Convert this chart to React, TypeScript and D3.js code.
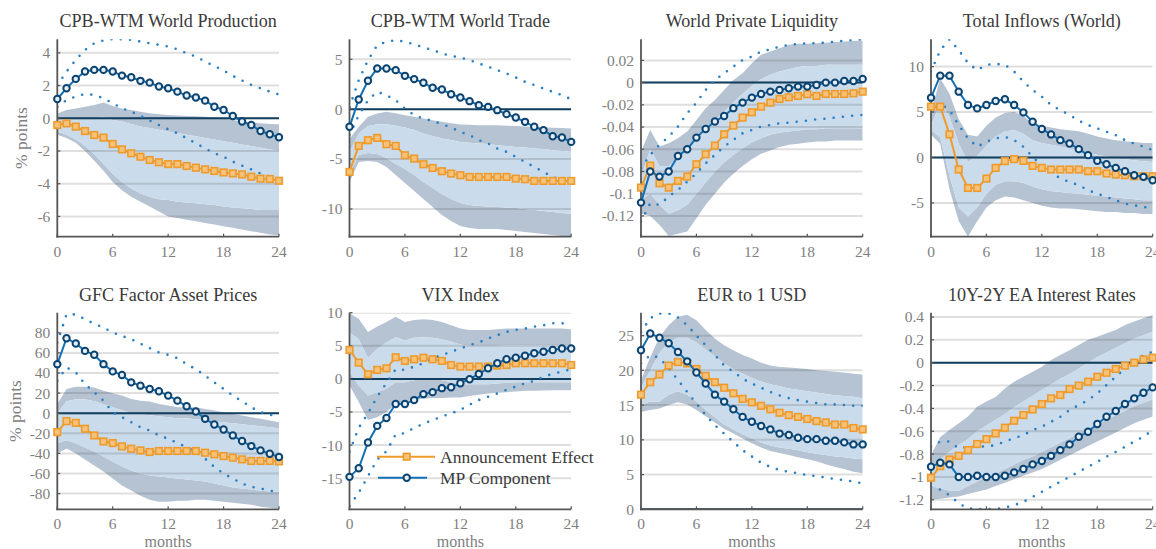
import React from "react";
import * as d3 from "d3";

// ---------- shared axis data ----------
const months = [0, 1, 2, 3, 4, 5, 6, 7, 8, 9, 10, 11, 12, 13, 14, 15, 16, 17, 18, 19, 20, 21, 22, 23, 24];
const xTicks = [0, 6, 12, 18, 24];

// ---------- Panel 1: CPB-WTM World Production ----------
const prodAE = [-0.41, -0.31, -0.51, -0.78, -1.02, -1.18, -1.57, -1.9, -2.14, -2.35, -2.55, -2.69, -2.8, -2.8, -2.92, -3.02, -3.12, -3.22, -3.31, -3.37, -3.43, -3.57, -3.69, -3.71, -3.82];
const prodMP = [1.18, 1.84, 2.41, 2.86, 2.96, 2.96, 2.86, 2.61, 2.51, 2.29, 2.18, 1.94, 1.84, 1.63, 1.39, 1.27, 1.08, 0.71, 0.51, 0.14, -0.2, -0.41, -0.78, -0.98, -1.16];
const prodMPHi = [2.0, 2.86, 3.57, 4.18, 4.59, 4.76, 4.84, 4.84, 4.8, 4.69, 4.59, 4.49, 4.39, 4.22, 3.98, 3.78, 3.47, 3.2, 2.92, 2.59, 2.31, 2.04, 1.84, 1.63, 1.45];
const prodMPLo = [0.71, 1.12, 1.33, 1.49, 1.43, 1.22, 0.92, 0.61, 0.41, 0.14, -0.14, -0.41, -0.67, -0.92, -1.22, -1.53, -1.84, -2.14, -2.35, -2.65, -2.9, -3.12, -3.37, -3.57, -3.73];
const prodOutHi = [0.3, 0.5, 0.6, 0.7, 0.82, 0.96, 0.75, 0.6, 0.5, 0.4, 0.31, 0.25, 0.2, 0.17, 0.14, 0.12, 0.1, 0.05, 0.0, -0.1, -0.2, -0.25, -0.31, -0.35, -0.37];
const prodInHi = [-0.1, -0.05, -0.05, -0.05, 0.0, 0.1, -0.1, -0.2, -0.35, -0.5, -0.6, -0.7, -0.8, -0.9, -1.0, -1.1, -1.2, -1.3, -1.4, -1.5, -1.6, -1.7, -1.8, -1.9, -2.0];
const prodInLo = [-0.8, -1.0, -1.3, -1.7, -2.2, -2.8, -3.4, -3.9, -4.3, -4.6, -4.8, -4.95, -5.0, -5.1, -5.15, -5.2, -5.25, -5.3, -5.4, -5.45, -5.5, -5.55, -5.6, -5.6, -5.6];
const prodOutLo = [-1.0, -1.2, -1.5, -2.0, -2.6, -3.2, -3.9, -4.4, -4.8, -5.1, -5.4, -5.7, -6.0, -6.1, -6.2, -6.3, -6.4, -6.5, -6.6, -6.7, -6.8, -6.9, -7.0, -7.1, -7.15];
const prodTicks = [-6, -4, -2, 0, 2, 4];
const prodTickLabels = ["-6", "-4", "-2", "0", "2", "4"];

// ---------- Panel 2: CPB-WTM World Trade ----------
const tradeAE = [-6.29, -3.68, -3.11, -2.88, -3.51, -3.68, -4.62, -4.95, -5.52, -5.89, -6.22, -6.45, -6.62, -6.79, -6.79, -6.79, -6.79, -6.79, -6.96, -7.02, -7.19, -7.19, -7.19, -7.19, -7.19];
const tradeMP = [-1.77, 0.97, 2.84, 4.08, 4.08, 3.91, 3.34, 3.01, 2.64, 2.14, 1.97, 1.5, 1.17, 0.8, 0.4, 0.23, -0.1, -0.5, -0.84, -1.27, -1.77, -2.1, -2.71, -2.84, -3.28];
const tradeMPHi = [0.2, 2.9, 4.9, 6.4, 6.75, 6.92, 6.75, 6.5, 6.19, 5.92, 5.59, 5.32, 5.18, 4.92, 4.58, 4.25, 3.91, 3.58, 3.18, 2.74, 2.41, 2.07, 1.74, 1.4, 1.0];
const tradeMPLo = [-2.6, -0.6, 0.9, 1.74, 1.4, 0.9, 0.07, -0.6, -0.94, -1.17, -1.5, -1.84, -2.27, -2.61, -3.11, -3.44, -3.95, -4.28, -4.78, -5.28, -5.79, -6.29, -6.79, -7.12, -7.46];
const tradeOutHi = [-3.0, -1.77, -0.77, -0.43, -0.27, -0.4, -0.6, -0.77, -0.94, -1.1, -1.27, -1.4, -1.54, -1.57, -1.6, -1.6, -1.6, -1.65, -1.7, -1.73, -1.77, -1.82, -1.87, -1.9, -1.94];
const tradeInHi = [-4.3, -2.44, -1.7, -1.5, -1.5, -1.65, -1.84, -2.1, -2.44, -2.7, -2.94, -3.1, -3.28, -3.36, -3.44, -3.5, -3.61, -3.7, -3.78, -3.85, -3.95, -4.0, -4.11, -4.2, -4.28];
const tradeInLo = [-6.5, -4.6, -4.4, -4.5, -4.9, -5.5, -6.0, -6.6, -7.3, -7.9, -8.5, -9.0, -9.4, -9.6, -9.7, -9.75, -9.8, -9.85, -9.9, -10.0, -10.1, -10.2, -10.3, -10.4, -10.5];
const tradeOutLo = [-7.3, -5.3, -5.2, -5.3, -5.8, -6.6, -7.4, -8.2, -9.0, -9.8, -10.6, -11.2, -11.7, -11.9, -12.0, -12.0, -12.0, -12.1, -12.2, -12.3, -12.4, -12.5, -12.6, -12.7, -12.7];
const tradeTicks = [-10, -5, 0, 5];
const tradeTickLabels = ["-10", "-5", "0", "5"];

// ---------- Panel 3: World Private Liquidity ----------
const liqAE = [-0.0945, -0.0747, -0.0906, -0.0945, -0.0885, -0.0846, -0.0735, -0.0645, -0.0567, -0.0465, -0.0387, -0.0315, -0.0267, -0.0216, -0.018, -0.0147, -0.0132, -0.012, -0.0105, -0.012, -0.0102, -0.0102, -0.0102, -0.0096, -0.0081];
const liqMP = [-0.108, -0.08, -0.0846, -0.08, -0.066, -0.06, -0.0495, -0.0417, -0.035, -0.03, -0.023, -0.018, -0.0135, -0.0102, -0.0081, -0.0066, -0.0051, -0.0036, -0.0036, -0.0021, 0.0, 0.0, 0.0015, 0.0015, 0.0033];
const liqMPHi = [-0.077, -0.065, -0.056, -0.0486, -0.0396, -0.0276, -0.018, -0.0066, 0.0024, 0.0084, 0.0144, 0.0204, 0.0234, 0.028, 0.03, 0.0324, 0.034, 0.0348, 0.0354, 0.0354, 0.036, 0.0369, 0.0378, 0.0384, 0.039];
const liqMPLo = [-0.125, -0.1086, -0.11, -0.1026, -0.0966, -0.0891, -0.0816, -0.0726, -0.0651, -0.0576, -0.0516, -0.0456, -0.0426, -0.0396, -0.0381, -0.0366, -0.036, -0.0351, -0.0342, -0.033, -0.0324, -0.0315, -0.0306, -0.0297, -0.0291];
const liqOutHi = [-0.062, -0.0426, -0.0576, -0.0546, -0.05, -0.044, -0.0336, -0.023, -0.0156, -0.0066, 0.0024, 0.0084, 0.0174, 0.025, 0.028, 0.031, 0.034, 0.035, 0.035, 0.0355, 0.036, 0.0365, 0.037, 0.0375, 0.038];
const liqInHi = [-0.085, -0.06, -0.075, -0.075, -0.068, -0.062, -0.052, -0.042, -0.034, -0.026, -0.018, -0.01, -0.003, 0.003, 0.007, 0.01, 0.012, 0.014, 0.015, 0.015, 0.016, 0.016, 0.016, 0.016, 0.016];
const liqInLo = [-0.105, -0.1, -0.11, -0.118, -0.115, -0.11, -0.1, -0.09, -0.08, -0.072, -0.065, -0.059, -0.054, -0.05, -0.047, -0.045, -0.044, -0.043, -0.042, -0.042, -0.041, -0.041, -0.041, -0.041, -0.041];
const liqOutLo = [-0.118, -0.12, -0.128, -0.138, -0.136, -0.134, -0.122, -0.11, -0.1, -0.09, -0.082, -0.075, -0.069, -0.064, -0.061, -0.058, -0.056, -0.055, -0.054, -0.053, -0.053, -0.052, -0.052, -0.052, -0.052];
const liqTicks = [-0.12, -0.1, -0.08, -0.06, -0.04, -0.02, 0, 0.02];
const liqTickLabels = ["-0.12", "-0.1", "-0.08", "-0.06", "-0.04", "-0.02", "0", "0.02"];

// ---------- Panel 4: Total Inflows (World) ----------
const inflAE = [5.59, 5.59, 2.54, -1.32, -3.35, -3.35, -2.32, -1.14, -0.4, -0.18, -0.37, -0.92, -1.14, -1.32, -1.32, -1.32, -1.32, -1.51, -1.51, -1.76, -1.88, -1.95, -2.06, -2.06, -2.06];
const inflMP = [6.58, 9.0, 9.0, 7.24, 5.77, 5.4, 5.77, 6.21, 6.4, 5.77, 4.96, 3.93, 3.13, 2.54, 1.91, 1.54, 0.92, 0.26, -0.37, -0.74, -1.14, -1.51, -1.95, -2.13, -2.5];
const inflMPHi = [9.45, 11.8, 13.0, 11.8, 10.4, 9.6, 10.2, 10.3, 10.2, 9.45, 8.35, 7.43, 6.7, 5.77, 5.22, 4.67, 4.04, 3.57, 3.2, 2.83, 2.46, 1.91, 1.54, 1.18, 0.81];
const inflMPLo = [5.0, 5.96, 5.22, 3.57, 2.1, 1.18, 1.73, 2.1, 2.28, 1.91, 1.18, 0.07, -0.85, -1.58, -2.32, -2.68, -3.05, -3.6, -3.97, -4.34, -4.7, -5.07, -5.26, -5.44, -5.63];
const inflOutHi = [5.0, 8.7, 7.0, 4.2, 2.5, 2.3, 3.5, 4.4, 4.9, 5.0, 4.6, 3.7, 3.5, 3.3, 3.1, 3.0, 2.9, 2.6, 2.3, 2.1, 1.9, 1.8, 1.7, 1.6, 1.6];
const inflInHi = [3.5, 6.0, 4.5, 1.5, -0.5, 0.2, 1.3, 2.3, 2.9, 3.0, 2.6, 1.9, 1.6, 1.4, 1.2, 1.0, 0.8, 0.5, 0.3, 0.1, -0.1, -0.2, -0.3, -0.4, -0.5];
const inflInLo = [3.0, 2.2, -2.0, -5.5, -6.5, -5.5, -4.0, -3.0, -2.6, -2.6, -2.8, -3.2, -3.5, -3.7, -3.8, -3.9, -4.0, -4.1, -4.2, -4.3, -4.4, -4.5, -4.6, -4.7, -4.7];
const inflOutLo = [2.5, 1.5, -3.5, -7.0, -8.7, -7.0, -5.5, -4.7, -4.3, -4.4, -4.7, -5.0, -5.3, -5.5, -5.6, -5.6, -5.7, -5.8, -5.9, -6.0, -6.0, -6.1, -6.1, -6.2, -6.2];
const inflTicks = [-5, 0, 5, 10];
const inflTickLabels = ["-5", "0", "5", "10"];

// ---------- Panel 5: GFC Factor Asset Prices ----------
const gfcAE = [-18.8, -7.9, -9.6, -15.5, -22.1, -28.1, -29.7, -33.0, -35.3, -37.0, -38.6, -37.6, -37.6, -37.6, -37.6, -37.6, -39.3, -40.9, -42.6, -44.2, -45.9, -47.5, -47.5, -47.5, -47.9];
const gfcMP = [48.8, 74.6, 69.3, 62.0, 58.1, 48.8, 41.6, 38.0, 30.7, 27.4, 24.1, 21.8, 17.5, 12.5, 6.9, 1.7, -5.6, -11.2, -16.2, -22.1, -27.7, -32.7, -37.0, -40.3, -43.6];
const gfcMPHi = [70.0, 98.3, 98.3, 93.4, 89.1, 85.1, 80.2, 76.9, 73.6, 69.3, 64.7, 60.4, 58.1, 54.8, 48.8, 43.9, 37.3, 30.7, 24.1, 17.5, 11.9, 5.9, 1.0, -1.3, -4.0];
const gfcMPLo = [32.3, 45.5, 40.6, 29.0, 20.8, 12.5, 1.0, -4.0, -8.9, -13.9, -17.2, -22.1, -25.4, -29.7, -33.7, -38.6, -45.2, -53.5, -60.1, -65.0, -70.0, -73.3, -74.9, -77.2, -78.2];
const gfcOutHi = [9.2, 24.0, 26.4, 26.4, 25.7, 22.4, 19.8, 17.5, 14.2, 12.5, 11.6, 9.2, 7.6, 5.9, 5.9, 5.9, 4.3, 2.6, 1.0, -0.7, -2.3, -4.0, -5.6, -7.3, -8.9];
const gfcInHi = [0, 12, 14, 14, 12, 9, 6, 3, 0, -1, -2, -3, -4, -5, -5, -6, -7, -8, -9, -10, -11, -12, -13, -14, -15];
const gfcInLo = [-30, -27, -30, -34, -38, -43, -48, -53, -57, -60, -62, -63, -64, -65, -66, -67, -68, -70, -72, -74, -75, -76, -77, -78, -78];
const gfcOutLo = [-40, -35, -40, -46, -52, -58, -65, -72, -77, -82, -86, -88, -88, -87, -87, -86, -86, -87, -88, -89, -90, -91, -93, -94, -95];
const gfcTicks = [-80, -60, -40, -20, 0, 20, 40, 60, 80];
const gfcTickLabels = ["-80", "-60", "-40", "-20", "0", "20", "40", "60", "80"];

// ---------- Panel 6: VIX Index ----------
const vixAE = [4.37, 2.46, 0.7, 1.36, 1.6, 3.27, 2.71, 2.96, 3.2, 2.96, 2.71, 2.1, 1.86, 1.86, 1.86, 1.86, 2.0, 2.1, 2.36, 2.36, 2.36, 2.36, 2.36, 2.36, 2.1];
const vixMP = [-14.8, -13.5, -9.6, -7.1, -5.9, -3.8, -3.8, -3.2, -2.3, -2.0, -1.4, -1.26, -0.65, -0.05, 0.75, 1.6, 2.36, 2.96, 3.2, 3.5, 3.87, 4.1, 4.37, 4.6, 4.6];
const vixMPHi = [-11.0, -7.4, -5.2, -2.7, -0.65, 1.46, 1.36, 1.86, 2.36, 3.1, 3.6, 4.1, 4.6, 5.1, 5.5, 6.1, 6.6, 7.1, 7.4, 7.6, 7.9, 8.1, 8.4, 8.4, 8.3];
const vixMPLo = [-19.2, -17.2, -14.7, -12.2, -10.95, -8.4, -8.2, -7.4, -6.8, -6.2, -5.7, -5.2, -4.7, -3.9, -3.2, -2.7, -2.2, -1.66, -1.16, -0.65, -0.3, 0.35, 0.75, 1.1, 1.46];
const vixOutHi = [9.9, 9.1, 7.1, 7.9, 8.6, 9.4, 8.6, 8.9, 9.0, 8.9, 8.6, 8.1, 7.6, 7.4, 7.4, 7.4, 7.5, 7.6, 7.6, 7.6, 7.6, 7.6, 7.6, 7.6, 7.5];
const vixInHi = [7.0, 6.0, 3.2, 4.5, 5.5, 6.3, 5.8, 6.2, 6.3, 6.2, 6.0, 5.6, 5.2, 5.0, 5.0, 5.0, 5.0, 5.1, 5.1, 5.1, 5.1, 5.1, 5.1, 5.1, 5.1];
const vixInLo = [1.0, -1.0, -2.5, -2.0, -1.5, -0.5, -0.5, -0.2, 0.0, 0.0, -0.2, -0.5, -0.8, -0.8, -0.8, -0.8, -0.7, -0.6, -0.5, -0.5, -0.5, -0.5, -0.5, -0.5, -0.5];
const vixOutLo = [-1.0, -3.5, -6.2, -5.8, -5.0, -3.8, -3.5, -3.2, -3.0, -2.9, -2.9, -2.8, -2.8, -2.6, -2.4, -2.2, -2.1, -2.0, -1.9, -1.8, -1.8, -1.75, -1.7, -1.7, -1.7];
const vixTicks = [-15, -10, -5, 0, 5, 10];
const vixTickLabels = ["-15", "-10", "-5", "0", "5", "10"];

// ---------- Panel 7: EUR to 1 USD ----------
const eurAE = [16.5, 18.3, 19.4, 20.7, 21.2, 21.0, 20.2, 19.2, 18.3, 17.5, 16.7, 15.9, 15.4, 14.9, 14.4, 13.9, 13.55, 13.3, 13.0, 12.7, 12.5, 12.2, 12.2, 11.7, 11.5];
const eurMP = [22.9, 25.3, 24.7, 23.9, 22.65, 21.3, 19.7, 18.1, 16.5, 15.5, 14.4, 13.3, 12.6, 12.0, 11.5, 10.9, 10.7, 10.3, 10.1, 10.1, 9.87, 9.87, 9.63, 9.34, 9.34];
const eurMPHi = [25.5, 27.5, 28.2, 28.2, 27.6, 26.5, 25.0, 23.6, 22.2, 20.7, 19.8, 18.8, 18.1, 17.5, 16.9, 16.4, 16.0, 15.7, 15.5, 15.3, 15.1, 15.1, 15.0, 14.9, 14.9];
const eurMPLo = [21.0, 22.2, 21.8, 20.3, 18.6, 16.9, 15.2, 13.55, 12.1, 10.9, 9.7, 8.5, 7.6, 6.7, 6.1, 5.65, 5.4, 5.2, 4.9, 4.8, 4.55, 4.36, 4.2, 4.0, 3.7];
const eurOutHi = [18.6, 21.9, 24.8, 26.5, 27.7, 28.0, 27.2, 25.8, 24.6, 23.6, 22.9, 22.2, 21.7, 21.1, 20.7, 20.5, 20.4, 20.3, 20.2, 20.0, 19.9, 19.8, 19.7, 19.5, 19.4];
const eurInHi = [17.5, 20.0, 22.5, 24.0, 24.7, 24.7, 24.0, 23.0, 22.0, 21.0, 20.2, 19.5, 18.9, 18.4, 18.0, 17.7, 17.4, 17.2, 17.0, 16.8, 16.6, 16.4, 16.3, 16.2, 16.0];
const eurInLo = [15.0, 15.5, 15.5, 16.5, 17.0, 16.5, 15.5, 14.3, 13.2, 12.2, 11.5, 10.8, 10.2, 9.6, 9.2, 8.9, 8.7, 8.5, 8.2, 8.0, 7.8, 7.6, 7.5, 7.3, 7.2];
const eurOutLo = [14.0, 14.3, 14.5, 15.0, 15.4, 15.1, 14.3, 13.4, 12.5, 11.6, 10.9, 10.2, 9.5, 8.9, 8.4, 8.1, 7.8, 7.5, 7.2, 6.9, 6.5, 6.1, 5.8, 5.4, 5.2];
const eurTicks = [0, 5, 10, 15, 20, 25];
const eurTickLabels = ["0", "5", "10", "15", "20", "25"];

// ---------- Panel 8: 10Y-2Y EA Interest Rates ----------
const sprAE = [-1.007, -0.905, -0.847, -0.815, -0.765, -0.712, -0.669, -0.619, -0.569, -0.508, -0.458, -0.409, -0.362, -0.312, -0.283, -0.231, -0.2, -0.166, -0.123, -0.088, -0.055, -0.026, 0.0, 0.029, 0.044];
const sprMP = [-0.91, -0.876, -0.89, -1.0, -1.0, -0.99, -1.0, -1.0, -0.99, -0.96, -0.93, -0.89, -0.86, -0.815, -0.765, -0.715, -0.648, -0.604, -0.537, -0.473, -0.423, -0.362, -0.312, -0.263, -0.216];
const sprMPHi = [-0.736, -0.69, -0.69, -0.75, -0.736, -0.73, -0.736, -0.72, -0.69, -0.66, -0.634, -0.59, -0.56, -0.517, -0.473, -0.415, -0.371, -0.327, -0.269, -0.196, -0.123, -0.05, 0.009, 0.067, 0.096];
const sprMPLo = [-1.086, -1.11, -1.16, -1.23, -1.276, -1.28, -1.28, -1.28, -1.267, -1.247, -1.218, -1.174, -1.13, -1.086, -1.042, -0.999, -0.955, -0.911, -0.867, -0.823, -0.78, -0.736, -0.69, -0.648, -0.59];
const sprOutHi = [-0.81, -0.65, -0.59, -0.53, -0.47, -0.385, -0.34, -0.3, -0.225, -0.166, -0.123, -0.08, -0.035, 0.023, 0.067, 0.11, 0.155, 0.2, 0.228, 0.257, 0.286, 0.33, 0.36, 0.39, 0.417];
const sprInHi = [-0.95, -0.85, -0.78, -0.72, -0.67, -0.6, -0.55, -0.5, -0.45, -0.39, -0.34, -0.29, -0.24, -0.19, -0.14, -0.1, -0.05, 0.0, 0.05, 0.09, 0.13, 0.17, 0.21, 0.24, 0.27];
const sprInLo = [-1.08, -1.1, -1.12, -1.12, -1.08, -1.04, -1.0, -0.97, -0.93, -0.89, -0.85, -0.82, -0.78, -0.74, -0.7, -0.66, -0.62, -0.58, -0.54, -0.5, -0.46, -0.42, -0.38, -0.35, -0.32];
const sprOutLo = [-1.2, -1.19, -1.18, -1.17, -1.15, -1.13, -1.11, -1.08, -1.05, -1.02, -0.99, -0.96, -0.93, -0.89, -0.85, -0.81, -0.77, -0.73, -0.69, -0.65, -0.61, -0.57, -0.53, -0.5, -0.47];
const sprTicks = [-1.2, -1, -0.8, -0.6, -0.4, -0.2, 0, 0.2, 0.4];
const sprTickLabels = ["-1.2", "-1", "-0.8", "-0.6", "-0.4", "-0.2", "0", "0.2", "0.4"];

// ---------- legend ----------
const legendLabels = ["Announcement Effect", "MP Component"];

type Panel = {
  title: string;
  ae: number[]; mp: number[]; mpHi: number[]; mpLo: number[];
  outHi: number[]; inHi: number[]; inLo: number[]; outLo: number[];
  domain: [number, number]; ticks: number[]; tickLabels: string[];
  col: number; row: number; yLabel?: boolean; legend?: boolean;
};

const panels: Panel[] = [
  { title: "CPB-WTM World Production", ae: prodAE, mp: prodMP, mpHi: prodMPHi, mpLo: prodMPLo, outHi: prodOutHi, inHi: prodInHi, inLo: prodInLo, outLo: prodOutLo, domain: [-7.24, 4.83], ticks: prodTicks, tickLabels: prodTickLabels, col: 0, row: 0, yLabel: true },
  { title: "CPB-WTM World Trade", ae: tradeAE, mp: tradeMP, mpHi: tradeMPHi, mpLo: tradeMPLo, outHi: tradeOutHi, inHi: tradeInHi, inLo: tradeInLo, outLo: tradeOutLo, domain: [-12.78, 7.0], ticks: tradeTicks, tickLabels: tradeTickLabels, col: 1, row: 0 },
  { title: "World Private Liquidity", ae: liqAE, mp: liqMP, mpHi: liqMPHi, mpLo: liqMPLo, outHi: liqOutHi, inHi: liqInHi, inLo: liqInLo, outLo: liqOutLo, domain: [-0.1387, 0.039], ticks: liqTicks, tickLabels: liqTickLabels, col: 2, row: 0 },
  { title: "Total Inflows (World)", ae: inflAE, mp: inflMP, mpHi: inflMPHi, mpLo: inflMPLo, outHi: inflOutHi, inHi: inflInHi, inLo: inflInLo, outLo: inflOutLo, domain: [-8.71, 13.0], ticks: inflTicks, tickLabels: inflTickLabels, col: 3, row: 0 },
  { title: "GFC Factor Asset Prices", ae: gfcAE, mp: gfcMP, mpHi: gfcMPHi, mpLo: gfcMPLo, outHi: gfcOutHi, inHi: gfcInHi, inLo: gfcInLo, outLo: gfcOutLo, domain: [-95.6, 100], ticks: gfcTicks, tickLabels: gfcTickLabels, col: 0, row: 1, yLabel: true },
  { title: "VIX Index", ae: vixAE, mp: vixMP, mpHi: vixMPHi, mpLo: vixMPLo, outHi: vixOutHi, inHi: vixInHi, inLo: vixInLo, outLo: vixOutLo, domain: [-19.7, 10], ticks: vixTicks, tickLabels: vixTickLabels, col: 1, row: 1, legend: true },
  { title: "EUR to 1 USD", ae: eurAE, mp: eurMP, mpHi: eurMPHi, mpLo: eurMPLo, outHi: eurOutHi, inHi: eurInHi, inLo: eurInLo, outLo: eurOutLo, domain: [0, 28.3], ticks: eurTicks, tickLabels: eurTickLabels, col: 2, row: 1 },
  { title: "10Y-2Y EA Interest Rates", ae: sprAE, mp: sprMP, mpHi: sprMPHi, mpLo: sprMPLo, outHi: sprOutHi, inHi: sprInHi, inLo: sprInLo, outLo: sprOutLo, domain: [-1.283, 0.4376], ticks: sprTicks, tickLabels: sprTickLabels, col: 3, row: 1 },
];

// ---------- layout & style ----------
const W = 1156, H = 549;
const COL_LEFT = [57.3, 349.5, 641, 931];
const PW = 221.7;
const ROW_TOP = [39.3, 312.7];
const ROW_BOTTOM = [236.7, 509.3];
const SERIF = "'Liberation Serif', 'Times New Roman', serif";

const C = {
  outer: "#b6c3d2",
  inner: "#cadbeb",
  grid: "rgba(38,38,38,0.15)",
  zero: "#123f60",
  axis: "#555555",
  tick: "#7f7f7f",
  title: "#3a3a3a",
  orange: "#ee9b2c",
  orangeFill: "#f6c27a",
  blueLine: "#1470b4",
  blueMarker: "#0b4370",
  blueFill: "#e6eef6",
  dots: "#2a7fc2",
};

function PanelView({ p, idx }: { p: Panel; idx: number }) {
  const left = COL_LEFT[p.col];
  const right = left + PW;
  const top = ROW_TOP[p.row];
  const bottom = ROW_BOTTOM[p.row];
  const x = d3.scaleLinear().domain([0, 24]).range([left, right]);
  const y = d3.scaleLinear().domain(p.domain).range([bottom, top]);
  const line = d3.line<number>().x((_, i) => x(months[i])).y((d) => y(d));
  const band = (hi: number[], lo: number[]) =>
    d3.area<number>().x((_, i) => x(months[i])).y1((d) => y(d)).y0((_, i) => y(lo[i]))(hi) || "";
  const clipId = `clip-${idx}`;
  const cx = (left + right) / 2;

  return (
    <g>
      <defs>
        <clipPath id={clipId}>
          <rect x={left} y={top} width={PW} height={bottom - top} />
        </clipPath>
      </defs>
      <g clipPath={`url(#${clipId})`}>
        <path d={band(p.outHi, p.inHi)} fill={C.outer} />
        <path d={band(p.inLo, p.outLo)} fill={C.outer} />
        <path d={band(p.inHi, p.inLo)} fill={C.inner} />
        {p.ticks.map((t) => (
          <line key={"g" + t} x1={left} x2={right} y1={y(t)} y2={y(t)} stroke={C.grid} strokeWidth={2} />
        ))}
        <line x1={left} x2={right} y1={y(0)} y2={y(0)} stroke={C.zero} strokeWidth={2} />
        <path d={line(p.mpHi) || ""} fill="none" stroke={C.dots} strokeWidth={2.6} strokeLinecap="round" strokeDasharray="0 9.3" />
        <path d={line(p.mpLo) || ""} fill="none" stroke={C.dots} strokeWidth={2.6} strokeLinecap="round" strokeDasharray="0 9.3" />
      </g>
      {/* axes */}
      <line x1={left} x2={left} y1={top} y2={bottom + 0.9} stroke={C.axis} strokeWidth={1.8} />
      <line x1={left - 0.9} x2={right} y1={bottom} y2={bottom} stroke={C.axis} strokeWidth={1.8} />
      {xTicks.map((t) => (
        <g key={"x" + t}>
          <line x1={x(t)} x2={x(t)} y1={bottom} y2={bottom - 3} stroke={C.axis} strokeWidth={1.2} />
          <text x={x(t)} y={bottom + 20} fill={C.tick} fontSize={15.5} fontFamily={SERIF} textAnchor="middle">{String(t)}</text>
        </g>
      ))}
      {p.ticks.map((t, i) => (
        <g key={"y" + t}>
          <line x1={left} x2={left + 3} y1={y(t)} y2={y(t)} stroke={C.axis} strokeWidth={1.2} />
          <text x={left - 7} y={y(t)} dy="0.35em" fill={C.tick} fontSize={15.5} fontFamily={SERIF} textAnchor="end">{p.tickLabels[i]}</text>
        </g>
      ))}
      {/* series */}
      <path d={line(p.ae) || ""} fill="none" stroke={C.orange} strokeWidth={2} />
      {p.ae.map((v, i) => (
        <rect key={"a" + i} x={x(months[i]) - 3.3} y={y(v) - 3.3} width={6.6} height={6.6} fill={C.orangeFill} stroke={C.orange} strokeWidth={1.6} />
      ))}
      <path d={line(p.mp) || ""} fill="none" stroke={C.blueLine} strokeWidth={2} />
      {p.mp.map((v, i) => (
        <circle key={"m" + i} cx={x(months[i])} cy={y(v)} r={3.2} fill={C.blueFill} stroke={C.blueMarker} strokeWidth={2} />
      ))}
      {/* title */}
      <text x={cx} y={top - 12} fill={C.title} fontSize={18.1} fontFamily={SERIF} textAnchor="middle">{p.title}</text>
      {p.row === 1 && (
        <text x={cx} y={H - 2} fill={C.tick} fontSize={16} fontFamily={SERIF} textAnchor="middle">months</text>
      )}
      {p.yLabel && (
        <text transform={`translate(${p.row === 0 ? 27 : 20.5},${(top + bottom) / 2}) rotate(-90)`} fill={C.tick} fontSize={17.5} fontFamily={SERIF} textAnchor="middle">% points</text>
      )}
      {p.legend && (
        <g>
          <line x1={377} x2={435} y1={456.7} y2={456.7} stroke={C.orange} strokeWidth={2} />
          <rect x={406.7 - 3.3} y={456.7 - 3.3} width={6.6} height={6.6} fill={C.orangeFill} stroke={C.orange} strokeWidth={1.6} />
          <text x={440} y={462.5} fill={C.title} fontSize={17.5} fontFamily={SERIF}>{legendLabels[0]}</text>
          <line x1={378} x2={427} y1={477.7} y2={477.7} stroke={C.blueLine} strokeWidth={2} />
          <circle cx={406.7} cy={477.7} r={3.2} fill={C.blueFill} stroke={C.blueMarker} strokeWidth={2} />
          <text x={440} y={483.5} fill={C.title} fontSize={17.5} fontFamily={SERIF}>{legendLabels[1]}</text>
        </g>
      )}
    </g>
  );
}

export default function App() {
  return (
    <svg
      width={W}
      height={H}
      viewBox={`0 0 ${W} ${H}`}
      style={{ position: "absolute", left: 0, top: 0, background: "#ffffff" }}
    >
      <rect x={0} y={0} width={W} height={H} fill="#ffffff" />
      {panels.map((p, i) => (
        <PanelView key={p.title} p={p} idx={i} />
      ))}
    </svg>
  );
}
